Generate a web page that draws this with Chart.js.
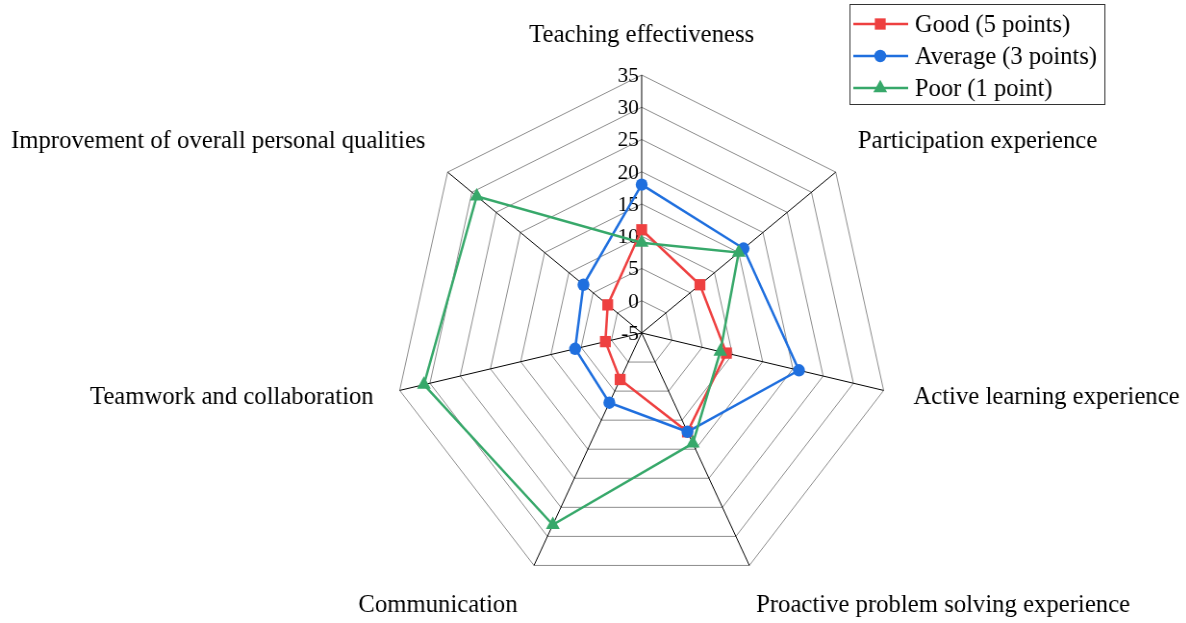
<!DOCTYPE html>
<html>
<head>
<meta charset="utf-8">
<script src="https://cdn.jsdelivr.net/npm/chart.js@4/dist/chart.umd.min.js"></script>
<style>
html,body{margin:0;padding:0;background:#fff;overflow:hidden;}
#wrap{width:1186px;height:623px;position:relative;overflow:hidden;}
#c{position:absolute;left:0;top:0;transform:scaleX(0.962);transform-origin:0 0;}
</style>
</head>
<body>
<div id="wrap"><canvas id="c" width="1233" height="623"></canvas></div>
<script>
const categories = [
  "Teaching effectiveness",
  "Participation experience",
  "Active learning experience",
  "Proactive problem solving experience",
  "Communication",
  "Teamwork and collaboration",
  "Improvement of overall personal qualities"
];
const seriesNames = ["Good (5 points)", "Average (3 points)", "Poor (1 point)"];
const goodValues = [11, 7, 9, 12, 3, 1, 2];
const averageValues = [18, 16, 21, 12, 7, 6, 7];
const poorValues = [9, 15, 8, 14, 28, 31, 29];
const tickValues = [-5, 0, 5, 10, 15, 20, 25, 30, 35];

const COLORS = ['#ee4040', '#1f6fde', '#37a86a'];
const STYLES = ['rect', 'circle', 'triangle'];
const RADII = [8, 6.2, 8.3];
const SERIF = '"Liberation Serif", "Times New Roman", serif';

// label placement relative to each axis end (styling only)
const labelPlacement = [
  {align: 'center', dx: 0, dy: -33},
  {align: 'left', dx: 23, dy: -24},
  {align: 'left', dx: 31, dy: 14},
  {align: 'left', dx: 7, dy: 47},
  {align: 'right', dx: -17, dy: 47},
  {align: 'right', dx: -27, dy: 14},
  {align: 'right', dx: -23, dy: -24}
];

const customDraw = {
  id: 'customDraw',
  beforeDatasetsDraw(chart) {
    const s = chart.scales.r;
    const ctx = chart.ctx;
    ctx.save();
    ctx.font = '22px ' + SERIF;
    ctx.fillStyle = '#000';
    ctx.textAlign = 'right';
    ctx.textBaseline = 'middle';
    s.ticks.forEach(t => {
      const d = s.getDistanceFromCenterForValue(t.value);
      ctx.fillText(t.label, s.xCenter - 3, s.yCenter - d + 1);
    });
    ctx.font = '25.7px ' + SERIF;
    ctx.textBaseline = 'alphabetic';
    categories.forEach((lab, i) => {
      const p = s.getPointPosition(i, s.drawingArea);
      const pl = labelPlacement[i];
      ctx.textAlign = pl.align;
      ctx.fillText(lab, p.x + pl.dx, p.y + pl.dy);
    });
    ctx.restore();
  },
  afterDraw(chart) {
    const ctx = chart.ctx;
    ctx.save();
    ctx.strokeStyle = '#333';
    ctx.lineWidth = 1;
    ctx.strokeRect(883.5, 4.5, 265, 100);
    ctx.font = '25.5px ' + SERIF;
    ctx.textAlign = 'left';
    ctx.textBaseline = 'middle';
    chart.data.datasets.forEach((ds, i) => {
      const y = 24 + i * 32;
      ctx.strokeStyle = ds.borderColor;
      ctx.lineWidth = 2.5;
      ctx.beginPath();
      ctx.moveTo(887, y);
      ctx.lineTo(944, y);
      ctx.stroke();
      ctx.fillStyle = ds.borderColor;
      ctx.lineWidth = 0.01;
      Chart.helpers.drawPoint(ctx, {pointStyle: ds.pointStyle, radius: ds.pointRadius, borderWidth: 0, rotation: 0}, 915, y);
      ctx.fillStyle = '#000';
      ctx.fillText(ds.label, 951, y + 1);
    });
    ctx.restore();
  }
};

const valueSets = [goodValues, averageValues, poorValues];
const datasets = valueSets.map((vals, i) => ({
  label: seriesNames[i],
  data: vals,
  borderColor: COLORS[i],
  backgroundColor: COLORS[i],
  pointBackgroundColor: COLORS[i],
  pointBorderColor: COLORS[i],
  pointBorderWidth: 0,
  borderWidth: 2.5,
  pointStyle: STYLES[i],
  pointRadius: RADII[i],
  pointHoverRadius: RADII[i],
  fill: false,
  tension: 0,
  order: 3 - i
}));

new Chart(document.getElementById('c'), {
  type: 'radar',
  data: {labels: categories, datasets},
  options: {
    responsive: false,
    animation: false,
    devicePixelRatio: 1,
    layout: {padding: {top: 75, bottom: 32, left: 101, right: 0}},
    plugins: {legend: {display: false}, tooltip: {enabled: false}},
    scales: {
      r: {
        min: -5,
        max: 35,
        afterBuildTicks(scale) {
          scale.ticks = tickValues.map(v => ({value: v}));
        },
        ticks: {display: false, stepSize: 5, callback: v => String(v)},
        grid: {color: '#8c8c8c', lineWidth: 1},
        angleLines: {color: '#000', lineWidth: 1},
        pointLabels: {display: false}
      }
    }
  },
  plugins: [customDraw]
});
</script>
</body>
</html>
